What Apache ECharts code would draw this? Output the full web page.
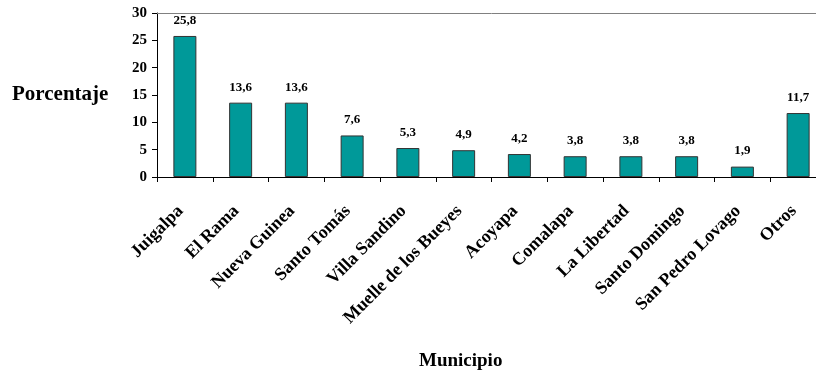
<!DOCTYPE html>
<html>
<head>
<meta charset="utf-8">
<script src="https://cdn.jsdelivr.net/npm/echarts@6/dist/echarts.min.js"></script>
<style>
  html, body { margin: 0; padding: 0; background: #fff; overflow: hidden; }
  /* the canvas is a little wider than the window so the last category runs past the edge */
  #chart { width: 826px; height: 376px; }
</style>
</head>
<body>
<div id="chart"></div>
<script>
// Municipios y porcentaje correspondiente
const municipios = ['Juigalpa', 'El Rama', 'Nueva Guinea', 'Santo Tomás', 'Villa Sandino',
  'Muelle de los Bueyes', 'Acoyapa', 'Comalapa', 'La Libertad', 'Santo Domingo',
  'San Pedro Lovago', 'Otros'];
const porcentajes = [25.8, 13.6, 13.6, 7.6, 5.3, 4.9, 4.2, 3.8, 3.8, 3.8, 1.9, 11.7];
const yTicks = [0, 5, 10, 15, 20, 25, 30];

const serif = '"Liberation Serif", "Times New Roman", serif';
const chart = echarts.init(document.getElementById('chart'), null, { renderer: 'canvas' });

chart.setOption({
  backgroundColor: '#ffffff',
  animation: false,
  grid: { left: 157, top: 13, right: 0, bottom: 199, containLabel: false },
  xAxis: [{
    type: 'category',
    data: municipios,
    axisLine: { lineStyle: { color: '#000', width: 1 } },
    axisTick: { show: true, length: 5, lineStyle: { color: '#000' } },
    axisLabel: {
      interval: 0, rotate: 45, margin: 27, padding: [0, 6, 0, 0],
      fontFamily: serif, fontWeight: 'bold', fontSize: 18, color: '#000'
    }
  }, {
    type: 'category',
    position: 'top',
    data: municipios,
    axisLine: { show: true, lineStyle: { color: '#808080', width: 1 } },
    axisTick: { show: false },
    axisLabel: { show: false }
  }],
  yAxis: {
    type: 'value',
    min: yTicks[0],
    max: yTicks[yTicks.length - 1],
    interval: yTicks[1] - yTicks[0],
    axisLine: { show: true, lineStyle: { color: '#000', width: 1 } },
    axisTick: { show: true, length: 5, lineStyle: { color: '#000' } },
    splitLine: { show: false },
    axisLabel: {
      margin: 10,
      fontFamily: serif, fontWeight: 'bold', fontSize: 15, color: '#000'
    }
  },
  series: [{
    type: 'bar',
    data: porcentajes,
    barWidth: 23,
    itemStyle: { color: '#009999', borderColor: '#333', borderWidth: 1 },
    label: {
      show: true, position: 'top', distance: 9,
      fontFamily: serif, fontWeight: 'bold', fontSize: 13, color: '#000',
      formatter: p => p.value.toFixed(1).replace('.', ',')
    }
  }],
  graphic: [{
    type: 'text', left: 12, top: 84,
    style: { text: 'Porcentaje', font: 'bold 21px ' + serif, fill: '#000' }
  }, {
    type: 'text', left: 419, top: 352,
    style: { text: 'Municipio', font: 'bold 19px ' + serif, fill: '#000' }
  }]
});
</script>
</body>
</html>
